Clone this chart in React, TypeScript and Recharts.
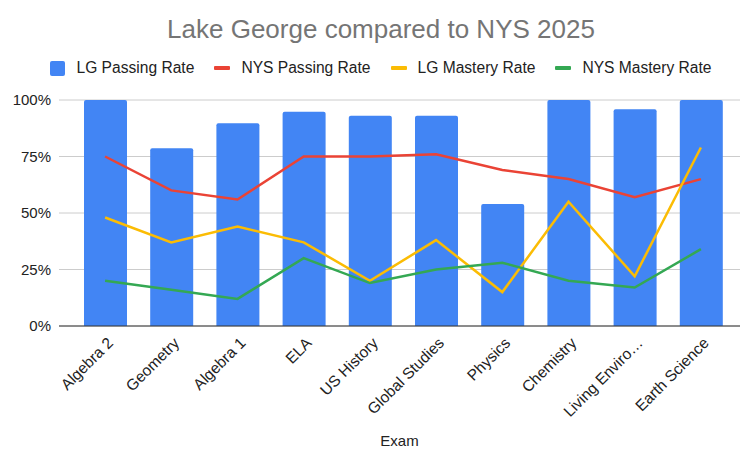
import { ComposedChart, Bar, Line, XAxis, YAxis, CartesianGrid } from "recharts";

const exams = [
  "Algebra 2",
  "Geometry",
  "Algebra 1",
  "ELA",
  "US History",
  "Global Studies",
  "Physics",
  "Chemistry",
  "Living Enviro…",
  "Earth Science",
];
const lgPassing = [100, 78.6, 89.7, 94.8, 93, 93, 54, 100, 95.9, 100];
const nysPassing = [75, 60, 56, 75, 75, 76, 69, 65, 57, 65];
const lgMastery = [48, 37, 44, 37, 20, 38, 15, 55, 22, 79];
const nysMastery = [20, 16, 12, 30, 19, 25, 28, 20, 17, 34];
const yTicks = [0, 25, 50, 75, 100];

const FONT = '"Liberation Sans", Arial, sans-serif';

const series = [
  { key: "lgPassing", name: "LG Passing Rate", color: "#4285F4", kind: "bar" },
  { key: "nysPassing", name: "NYS Passing Rate", color: "#EA4335", kind: "line" },
  { key: "lgMastery", name: "LG Mastery Rate", color: "#FBBC04", kind: "line" },
  { key: "nysMastery", name: "NYS Mastery Rate", color: "#34A853", kind: "line" },
];

const data = exams.map((exam, i) => ({
  exam,
  lgPassing: lgPassing[i],
  nysPassing: nysPassing[i],
  lgMastery: lgMastery[i],
  nysMastery: nysMastery[i],
}));

function ExamTick({ x, y, payload }: any) {
  const ax = x + 9;
  const ay = y + 18;
  return (
    <text
      x={ax}
      y={ay}
      textAnchor="end"
      transform={`rotate(-45, ${ax}, ${ay})`}
      fontSize={15.5}
      fill="#222"
      fontFamily={FONT}
    >
      {payload.value}
    </text>
  );
}

function LegendRow() {
  return (
    <div
      style={{
        position: "absolute",
        top: 56,
        left: 22,
        width: 718,
        display: "flex",
        justifyContent: "center",
        alignItems: "center",
        fontFamily: FONT,
        fontSize: 15.6,
        color: "#222",
        height: 24,
      }}
    >
      {series.map((s, i) => (
        <div
          key={s.key}
          style={{ display: "flex", alignItems: "center", marginLeft: i === 0 ? 0 : 20 }}
        >
          {s.kind === "bar" ? (
            <span
              style={{ width: 15, height: 15, borderRadius: 2, background: s.color, display: "inline-block" }}
            />
          ) : (
            <span
              style={{ width: 16, height: 4, borderRadius: 1, background: s.color, display: "inline-block" }}
            />
          )}
          <span style={{ marginLeft: 11 }}>{s.name}</span>
        </div>
      ))}
    </div>
  );
}

export default function App() {
  return (
    <div style={{ position: "fixed", left: 0, top: 0, width: 740, height: 449, background: "#fff" }}>
      <div
        style={{
          position: "absolute",
          top: 14,
          left: 22,
          width: 718,
          textAlign: "center",
          fontFamily: FONT,
          fontSize: 26,
          color: "#757575",
        }}
      >
        Lake George compared to NYS 2025
      </div>
      <LegendRow />
      <ComposedChart
        width={740}
        height={449}
        data={data}
        margin={{ top: 100, right: 0, bottom: 0, left: 0 }}
        style={{ fontFamily: FONT }}
      >
        <CartesianGrid vertical={false} stroke="#ccc" />
        <XAxis
          dataKey="exam"
          interval={0}
          height={123}
          padding={{ left: 13, right: 6 }}
          tickLine={false}
          tickSize={0}
          tickMargin={0}
          axisLine={{ stroke: "#333" }}
          tick={<ExamTick />}
          label={{ value: "Exam", position: "insideBottom", offset: 3, fill: "#222", fontSize: 15 }}
        />
        <YAxis
          width={59}
          domain={[0, 100]}
          ticks={yTicks}
          tickFormatter={(v) => `${v}%`}
          axisLine={false}
          tickLine={false}
          tickSize={0}
          tickMargin={8}
          tick={{ fill: "#222", fontSize: 15 }}
        />
        <Bar dataKey="lgPassing" fill="#4285F4" barSize={43} radius={[2, 2, 0, 0]} isAnimationActive={false} />
        <Line type="linear" dataKey="nysPassing" stroke="#EA4335" strokeWidth={2.5} dot={false} isAnimationActive={false} />
        <Line type="linear" dataKey="lgMastery" stroke="#FBBC04" strokeWidth={2.5} dot={false} isAnimationActive={false} />
        <Line type="linear" dataKey="nysMastery" stroke="#34A853" strokeWidth={2.5} dot={false} isAnimationActive={false} />
      </ComposedChart>
    </div>
  );
}
